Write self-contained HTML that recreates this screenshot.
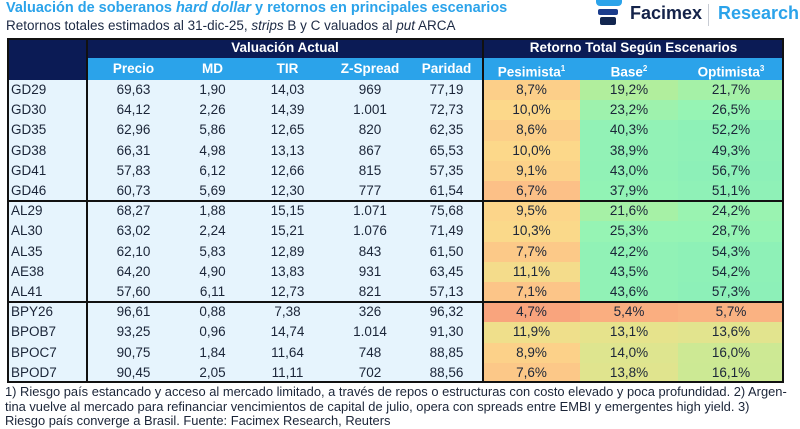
<!DOCTYPE html>
<html><head><meta charset="utf-8">
<style>
body{margin:0;width:800px;height:428px;overflow:hidden;background:#fff;font-family:"Liberation Sans",sans-serif;position:relative}
.a{position:absolute}
.t{font-size:14.5px;font-weight:bold;color:#2ba3ea;left:6px;top:0px;white-space:nowrap}
.s{font-size:13.5px;color:#1d2a44;left:6px;top:18px;white-space:nowrap}
.cell{position:absolute;text-align:center;font-size:13.5px;color:#1b2538;line-height:20.2px;height:20.2px}
.hd{position:absolute;text-align:center;color:#fff;font-weight:bold;font-size:13.5px}
.fn{font-size:12.9px;color:#1b2538;left:5px;top:385px;line-height:14.6px;width:795px;white-space:nowrap}
</style></head><body>
<div class="a t">Valuación de soberanos <i>hard dollar</i> y retornos en principales escenarios</div>
<div class="a s">Retornos totales estimados al 31-dic-25, <i>strips</i> B y C valuados al <i>put</i> ARCA</div>
<div class="a" style="left:596px;top:0;width:200px;height:34px">
 <div class="a" style="left:0;top:0;width:26px;height:6px;background:#2ba3ea;border-radius:0 0 4px 4px"></div>
 <div class="a" style="left:2px;top:9px;width:20px;height:6px;background:#1a3c8c;border-radius:2px"></div>
 <div class="a" style="left:4px;top:17px;width:16px;height:8px;background:#12264f;border-radius:2px"></div>
 <div class="a" style="left:34px;top:3px;font-size:18px;font-weight:bold;color:#14234a">Facimex</div>
 <div class="a" style="left:112px;top:4px;width:1px;height:22px;background:#c8ccd4"></div>
 <div class="a" style="left:122px;top:3px;font-size:18px;font-weight:bold;color:#2ba3ea">Research</div>
</div>
<div id="tbl" class="a" style="left:0;top:0;width:800px;height:428px"></div>
<div class="a fn">1) Riesgo país estancado y acceso al mercado limitado, a través de repos o estructuras con costo elevado y poca profundidad. 2) Argen-<br>tina vuelve al mercado para refinanciar vencimientos de capital de julio, opera con spreads entre EMBI y emergentes high yield. 3)<br>Riesgo país converge a Brasil. Fuente: Facimex Research, Reuters</div>
<script>
const bonds=["GD29","GD30","GD35","GD38","GD41","GD46","AL29","AL30","AL35","AE38","AL41","BPY26","BPOB7","BPOC7","BPOD7"];
const precio=["69,63","64,12","62,96","66,31","57,83","60,73","68,27","63,02","62,10","64,20","57,60","96,61","93,25","90,75","90,45"];
const md=["1,90","2,26","5,86","4,98","6,12","5,69","1,88","2,24","5,83","4,90","6,11","0,88","0,96","1,84","2,05"];
const tir=["14,03","14,39","12,65","13,13","12,66","12,30","15,15","15,21","12,89","13,83","12,73","7,38","14,74","11,64","11,11"];
const zspread=["969","1.001","820","867","815","777","1.071","1.076","843","931","821","326","1.014","748","702"];
const paridad=["77,19","72,73","62,35","65,53","57,35","61,54","75,68","71,49","61,50","63,45","57,13","96,32","91,30","88,85","88,56"];
const pesimista=[8.7,10.0,8.6,10.0,9.1,6.7,9.5,10.3,7.7,11.1,7.1,4.7,11.9,8.9,7.6];
const base=[19.2,23.2,40.3,38.9,43.0,37.9,21.6,25.3,42.2,43.5,43.6,5.4,13.1,14.0,13.8];
const optimista=[21.7,26.5,52.2,49.3,56.7,51.1,24.2,28.7,54.3,54.2,57.3,5.7,13.6,16.0,16.1];
const valHeaders=["Precio","MD","TIR","Z-Spread","Paridad"];
const scnHeaders=["Pesimista","Base","Optimista"];
const scnSup=["1","2","3"];

const T=document.getElementById('tbl');
const L=7,R=784,TOP=38,ROWY=80,RH=20.2,NAMEX=87,SPLIT=483;
const valCols=[[87,180],[180,245],[245,330],[330,410],[410,483]];
const scnCols=[[483,580],[580,678],[678,784]];
function pct(v){return v.toFixed(1).replace('.',',')+'%';}
function lerp(a,b,t){return a.map((x,i)=>Math.round(x+(b[i]-x)*t));}
function heat(v){
  const stops=[[4.7,[249,164,125]],[7,[252,196,136]],[10,[252,216,138]],[13,[231,227,140]],[19,[178,238,156]],[25,[150,244,180]],[60,[140,240,184]]];
  for(let i=0;i<stops.length-1;i++){const a=stops[i],b=stops[i+1];
    if(v<=b[0]){const t=Math.max(0,(v-a[0])/(b[0]-a[0]));return 'rgb('+lerp(a[1],b[1],t).join(',')+')';}}
  return 'rgb(140,240,184)';
}
function div(x,y,w,h,style,name){const d=document.createElement('div');d.className='a';
  d.style.cssText=`left:${x}px;top:${y}px;width:${w}px;height:${h}px;`+(style||'');
  
  
  T.appendChild(d);return d;}
div(L,TOP,R-L,ROWY-TOP,'background:#0b1b55','header-navy');
div(NAMEX,58,R-NAMEX,22,'background:#2ba3ea','header-blue');
div(L,ROWY,R-L,RH*15,'background:#e6f4fd','body-bg');
let h=div(NAMEX,TOP,SPLIT-NAMEX,20,'','valuacion-header');h.className='hd';h.style.lineHeight='20px';h.textContent='Valuación Actual';
h=div(SPLIT,TOP,R-SPLIT,20,'','escenarios-header');h.className='hd';h.style.lineHeight='20px';h.textContent='Retorno Total Según Escenarios';
valHeaders.forEach((t,i)=>{const c=valCols[i];const e=div(c[0],58,c[1]-c[0],22,'','col-header');e.className='hd';e.style.lineHeight='22px';e.textContent=t;});
scnHeaders.forEach((t,i)=>{const c=scnCols[i];const e=div(c[0],58,c[1]-c[0],22,'','col-header');e.className='hd';e.style.lineHeight='22px';e.innerHTML=t+'<sup style="font-size:8px">'+scnSup[i]+'</sup>';});
const scn=[pesimista,base,optimista];
bonds.forEach((b,r)=>{
  const y=ROWY+r*RH;
  let e=div(L+4,y,78,RH,'','bond-name');e.className='cell';e.style.textAlign='left';e.textContent=b;
  [precio,md,tir,zspread,paridad].forEach((arr,i)=>{const c=valCols[i];const d=div(c[0],y,c[1]-c[0],RH,'','value-cell');d.className='cell';d.textContent=arr[r];});
  scn.forEach((arr,i)=>{const c=scnCols[i];const d=div(c[0],y,c[1]-c[0],RH,'background:'+heat(arr[r]),'heat-cell');d.className='cell';d.textContent=pct(arr[r]);});
});
div(L,TOP,R-L,RH*15+ROWY-TOP,'border:2px solid #111;box-sizing:border-box','table-border');
div(NAMEX-1,TOP,2,ROWY-TOP+RH*15,'background:#111','name-divider');
div(SPLIT-1,TOP,2,ROWY-TOP+RH*15,'background:#111','scenario-divider');
[6,11].forEach(k=>div(L,ROWY+k*RH-1,R-L,2,'background:#111','group-divider'));
</script>
</body></html>
